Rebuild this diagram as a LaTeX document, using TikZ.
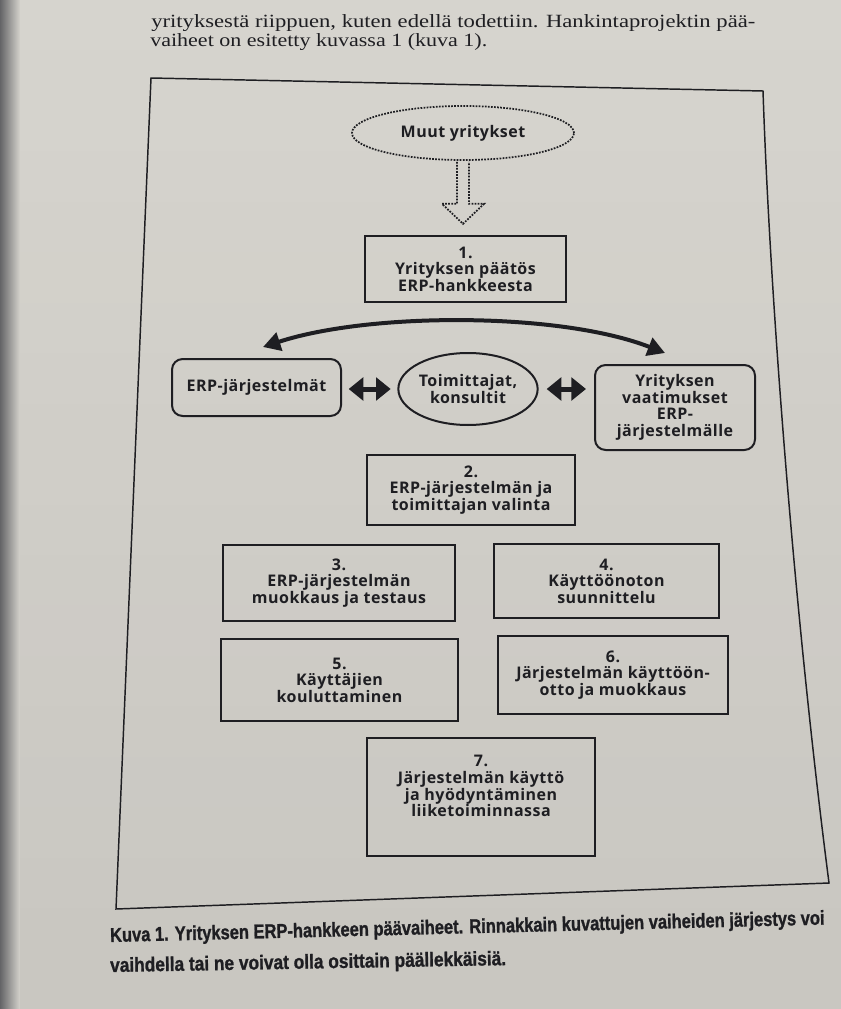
\documentclass[tikz,border=0pt]{standalone}
\usepackage{graphicx}
\usepackage{fontspec}
\setmainfont{Liberation Serif}
\newfontfamily\diag{Open Sans}[LetterSpace=3]
\newfontfamily\capfont{Liberation Sans}[BoldFeatures={FakeBold=1.2}]
\usetikzlibrary{shapes.geometric,arrows.meta,calc}
\definecolor{papertop}{RGB}{214,212,206}
\definecolor{paperbot}{RGB}{200,198,192}
\definecolor{papermid}{RGB}{208,206,200}
\definecolor{spine}{RGB}{100,100,103}
\definecolor{ink}{RGB}{30,30,34}
\begin{document}
\begin{tikzpicture}[x=0.75pt,y=-0.75pt,
  box/.style={draw=ink, line width=1.5pt, rectangle, align=center, inner sep=0pt,
    font=\diag\bfseries\fontsize{12}{12.4}\selectfont, text=ink},
  rbox/.style={box, rounded corners=8pt},
  ell/.style={box, ellipse},
  dbl/.style={draw=ink, line width=3.75pt,
    {Triangle[length=11pt,width=17pt]}-{Triangle[length=11pt,width=17pt]}},
  curvarr/.style={draw=ink, line width=3pt,
    {Triangle[length=13pt,width=14pt]}-{Triangle[length=13pt,width=14pt]}},
  bodytext/.style={anchor=base west, inner sep=0pt, text=ink},
  captext/.style={anchor=base west, inner sep=0pt, text=ink}
]
\useasboundingbox (0,0) rectangle (840,1009);
% paper: manual vertical gradient
\foreach \i in {0,...,19}{
  \pgfmathsetmacro{\p}{100-\i*5}
  \fill[papertop!\p!paperbot] (-2,{\i*50.45}) rectangle (842,{(\i+1)*50.45+1});
}
% book spine shadow on the left
\foreach \i in {0,...,19}{
  \pgfmathsetmacro{\p}{100-\i*5.2}
  \fill[spine!\p!papermid] ({\i-0.5},-2) rectangle ({\i+1.05},1011);
}

% body text above the figure
\node[bodytext] (t1) at (151,28) {\resizebox{453pt}{\height}{\fontsize{14}{16}\selectfont yrityksestä riippuen, kuten edellä todettiin. Hankintaprojektin pää-}};
\node[bodytext] (t2) at (150,47) {\resizebox{252.75pt}{\height}{\fontsize{14}{16}\selectfont vaiheet on esitetty kuvassa 1 (kuva 1).}};

% frame
\draw[ink, line width=1.1pt, line join=miter] (151,78) -- (763,91) .. controls (770,300) and (795,620) .. (829,883) -- (116,909) -- cycle;

% Muut yritykset
\node[ell, line width=1.3pt, densely dotted, minimum width=166.5pt, minimum height=40.5pt] (muut) at (463,133) {Muut yritykset};
\draw[ink, line width=1.3pt, densely dotted, line join=miter]
  ($(muut.south)+(-6,1)$) -- ($(muut.south)+(-6,43)$) -- ($(muut.south)+(-21,43)$)
  -- ($(muut.south)+(0,63)$) -- ($(muut.south)+(21,43)$) -- ($(muut.south)+(6,43)$)
  -- ($(muut.south)+(6,1)$);

% step 1
\node[box, minimum width=150.75pt, minimum height=49.5pt] (b1) at (465.5,269) {1.\\Yrityksen päätös\\ERP-hankkeesta};

% middle row
\node[rbox, minimum width=126.75pt, minimum height=42.75pt] (erp) at (256.5,387.5) {ERP-järjestelmät};
\node[ell, minimum width=97.5pt, minimum height=54pt] (toim) at (468,389) {Toimittajat,\\konsultit};
\node[rbox, minimum width=120pt, minimum height=63.75pt] (yrit) at (675,407.5) {Yrityksen\\vaatimukset\\ERP-\\järjestelmälle};

\draw[dbl, shorten <=5pt, shorten >=5pt] (toim.west -| erp.east) -- (toim.west);
\draw[dbl, shorten <=6pt, shorten >=6pt] (toim.east) -- (toim.east -| yrit.west);

\coordinate (cl) at (263,347);
\coordinate (cr) at (665,353);
\draw[curvarr] (cl) .. controls (370,312) and (560,312) .. (cr);

% steps 2-7
\node[box, minimum width=156pt, minimum height=52.5pt] (b2) at (471,490) {2.\\ERP-järjestelmän ja\\toimittajan valinta};
\node[box, minimum width=174pt, minimum height=57pt] (b3) at (339,583) {3.\\ERP-järjestelmän\\muokkaus ja testaus};
\node[box, minimum width=168.75pt, minimum height=55.5pt] (b4) at (606.5,581) {4.\\Käyttöönoton\\suunnittelu};
\node[box, minimum width=177.75pt, minimum height=61.5pt] (b5) at (339.5,680) {5.\\Käyttäjien\\kouluttaminen};
\node[box, minimum width=172.5pt, minimum height=58.5pt] (b6) at (613,675) {6.\\Järjestelmän käyttöön-\\otto ja muokkaus};
\node[box, minimum width=171pt, minimum height=88.5pt] (b7) at (481,797) {7.\\Järjestelmän käyttö\\ja hyödyntäminen\\liiketoiminnassa\\[4pt]};

% caption
\node[captext, rotate=1.4] (c1) at (110,942) {\resizebox{536pt}{\height}{\capfont\bfseries\fontsize{15}{17}\selectfont Kuva 1. Yrityksen ERP-hankkeen päävaiheet. Rinnakkain kuvattujen vaiheiden järjestys voi}};
\node[captext, rotate=1.0] (c2) at (110,972) {\resizebox{297pt}{\height}{\capfont\bfseries\fontsize{15}{17}\selectfont vaihdella tai ne voivat olla osittain päällekkäisiä.}};
\end{tikzpicture}
\end{document}
